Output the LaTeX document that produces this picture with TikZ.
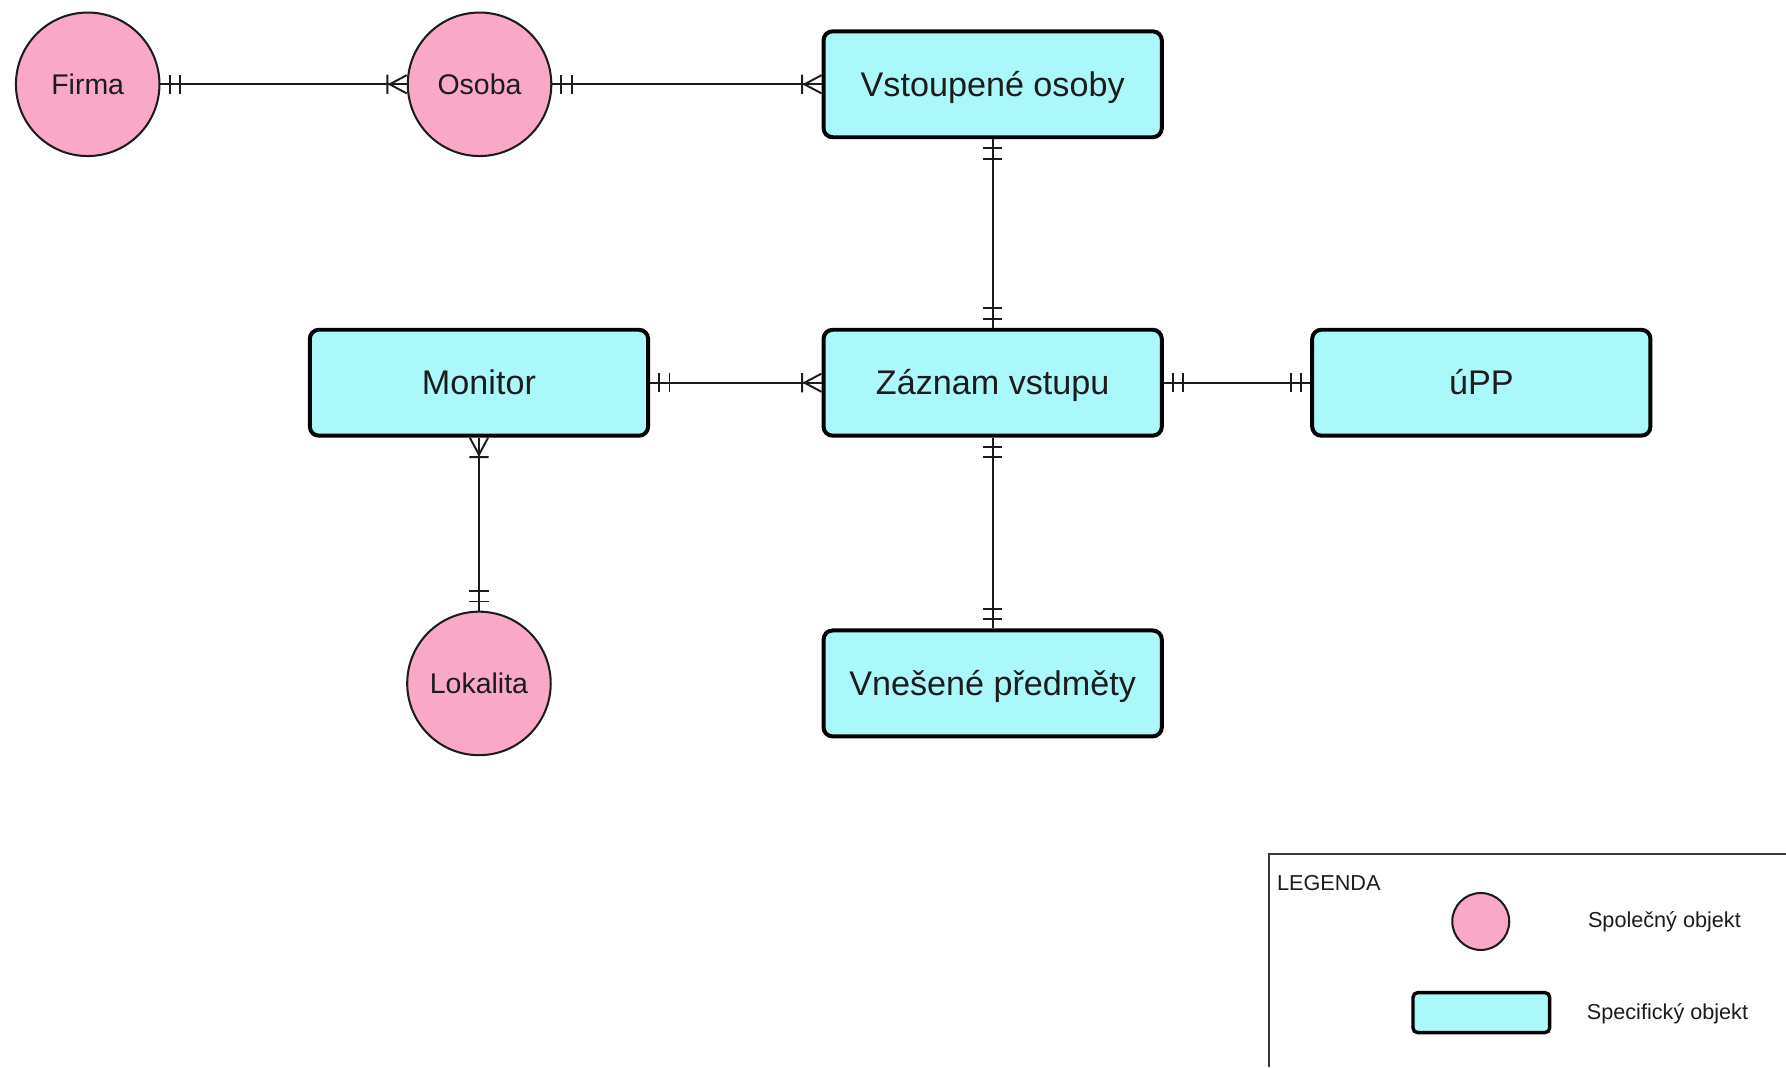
\documentclass[tikz,border=0pt]{standalone}
\usepackage{fontspec}
\setmainfont{Liberation Sans}
\usetikzlibrary{decorations.markings}
\definecolor{pinkfill}{HTML}{F9A8C8}
\definecolor{cyanfill}{HTML}{ABF8FB}
\definecolor{ink}{HTML}{1C1C1C}
\definecolor{legline}{HTML}{3A3A3A}
\tikzset{
  common/.style={circle, draw=ink, line width=1.8pt, fill=pinkfill, minimum size=126pt, inner sep=0pt, font=\fontsize{25}{30}\selectfont, text=ink, text height=18pt, text depth=0pt},
  entity/.style={rectangle, rounded corners=8pt, draw=black, line width=3.5pt, fill=cyanfill, minimum width=297pt, minimum height=93pt, inner sep=0pt, font=\fontsize{30}{36}\selectfont, text=ink, text height=21.5pt, text depth=0pt},
  rel/.style={draw=ink, line width=1.7pt},
  tickline/.style={draw=ink, line width=1.7pt},
  oneA/.style={postaction={decorate, decoration={markings,
     mark=at position 8pt with {\draw[tickline] (0pt,-8.5pt)--(0pt,8.5pt) (9pt,-8.5pt)--(9pt,8.5pt);}}}},
  oneB/.style={postaction={decorate, decoration={markings,
     mark=at position -8pt with {\draw[tickline] (0pt,-8.5pt)--(0pt,8.5pt) (-9pt,-8.5pt)--(-9pt,8.5pt);}}}},
  manyA/.style={postaction={decorate, decoration={markings,
     mark=at position 15pt with {\draw[tickline] (2pt,-8.5pt)--(2pt,8.5pt) (-15pt,8pt)--(0pt,0pt)--(-15pt,-8pt);}}}},
  manyB/.style={postaction={decorate, decoration={markings,
     mark=at position -15pt with {\draw[tickline] (-2pt,-8.5pt)--(-2pt,8.5pt) (15pt,8pt)--(0pt,0pt)--(15pt,-8pt);}}}},
  legtext/.style={anchor=west, inner sep=0pt, font=\fontsize{19}{23}\selectfont, text=ink},
}
\begin{document}
\begin{tikzpicture}[x=1pt,y=-1pt]
\useasboundingbox[fill=white] (0,0) rectangle (1568,937);

% entities
\node[common] (firma) at (77,74) {Firma};
\node[common] (osoba) at (421,74) {Osoba};
\node[entity] (vst) at (871.5,74) {Vstoupené osoby};
\node[entity] (mon) at (420.5,336) {Monitor};
\node[entity] (zaz) at (871.5,336) {Záznam vstupu};
\node[entity] (upp) at (1300.5,336) {úPP};
\node[entity] (vne) at (871.5,600) {Vnešené předměty};
\node[common] (lok) at (420.5,600) {Lokalita};

% relationships
\draw[rel, oneA, manyB] (firma) -- (osoba);
\draw[rel, oneA, manyB] (osoba) -- (vst);
\draw[rel, oneA, oneB] (vst) -- (zaz);
\draw[rel, oneA, manyB] (mon) -- (zaz);
\draw[rel, oneA, oneB] (zaz) -- (upp);
\draw[rel, oneA, oneB] (zaz) -- (vne);
\draw[rel, manyA, oneB] (mon) -- (lok);

% legend
\draw[legline, line width=1.5pt] (1568,750) -- (1114,750) -- (1114,937);
\node[legtext] (legtitle) at (1121,775) {LEGENDA};
\node[common, minimum size=50pt, line width=1.8pt] (legc) at (1300,809) {};
\node[entity, minimum width=120pt, minimum height=35pt, line width=3pt, rounded corners=4pt] (legr) at (1300.5,889) {};
\node[legtext] (legct) at (1394,809) {Společný objekt};
\node[legtext] (legrt) at (1393,890) {Specifický objekt};
\end{tikzpicture}
\end{document}
